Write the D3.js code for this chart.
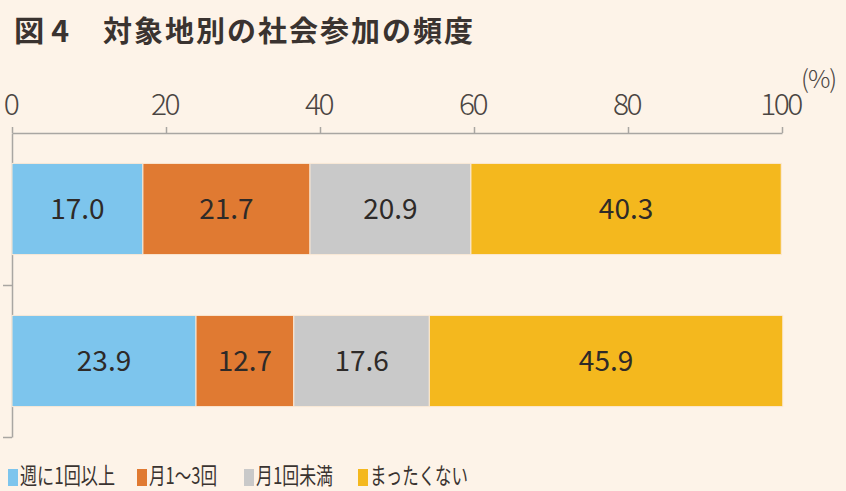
<!DOCTYPE html>
<html>
<head>
<meta charset="utf-8">
<script src="https://cdn.jsdelivr.net/npm/d3@7"></script>
<style>
  body { margin: 0; background: #fdf3e8; }
  svg { display: block; }
  text { font-family: "Noto Sans CJK JP", "Noto Sans", sans-serif; }
</style>
</head>
<body>
<div id="chart"></div>
<script>
'use strict';

// data
var groups = ["A", "B"];
var seriesNames = ["週に1回以上", "月1～3回", "月1回未満", "まったくない"];
var seriesColors = ["#7dc5ed", "#e07a32", "#c9c9c9", "#f4b81e"];
var weekly    = [17.0, 23.9];
var monthly   = [21.7, 12.7];
var lessThan  = [20.9, 17.6];
var never     = [40.3, 45.9];
var xTicks = [0, 20, 40, 60, 80, 100];

var W = 846, H = 491;

var svg = d3.select("#chart").append("svg")
    .attr("width", W)
    .attr("height", H);

svg.append("rect").attr("width", W).attr("height", H).attr("fill", "#fdf3e8");

// title (figure number + caption)
svg.append("text")
    .attr("x", 14).attr("y", 42)
    .attr("font-size", 29)
    .attr("font-weight", "bold")
    .attr("fill", "#3a3330")
    .attr("textLength", 55).attr("lengthAdjust", "spacingAndGlyphs")
    .text("図 4");
svg.append("text")
    .attr("x", 103).attr("y", 42)
    .attr("font-size", 29)
    .attr("font-weight", "bold")
    .attr("fill", "#3a3330")
    .attr("textLength", 370).attr("lengthAdjust", "spacing")
    .text("対象地別の社会参加の頻度");

var x = d3.scaleLinear().domain([0, 100]).range([12, 782]);
var y = d3.scaleBand().domain(groups).range([133, 437]).paddingInner(0.4).paddingOuter(0.2);

// build stacked rows
var rows = groups.map(function(g, i) {
    return { group: g, s0: weekly[i], s1: monthly[i], s2: lessThan[i], s3: never[i] };
});
var stack = d3.stack().keys(["s0", "s1", "s2", "s3"]);
var layers = stack(rows);

// top axis
var xAxis = d3.axisTop(x).tickValues(xTicks).tickSize(6).tickSizeOuter(0).tickPadding(12);
var gx = svg.append("g").attr("transform", "translate(0,133)").call(xAxis);
gx.select(".domain").attr("stroke", "#a9a6a2").attr("stroke-width", 1.5);
gx.selectAll(".tick line").attr("stroke", "#a9a6a2").attr("stroke-width", 1.5);
gx.selectAll(".tick text")
    .attr("font-size", 30)
    .attr("fill", "#4a4542")
    .attr("font-family", "Roboto, 'Noto Sans', sans-serif")
    .attr("font-weight", 300)
    .attr("letter-spacing", -2.5)
    .attr("dx", -2);

svg.append("text")
    .attr("x", 801).attr("y", 88)
    .attr("font-size", 25)
    .attr("fill", "#4a4542")
    .attr("font-family", "Roboto, 'Noto Sans', sans-serif")
    .attr("font-weight", 300)
    .attr("letter-spacing", -1)
    .text("(%)");

// left axis: band boundaries
var yAxis = d3.axisLeft(d3.scaleLinear().domain([0, 2]).range([133, 437]))
    .tickValues([1, 2]).tickSize(9).tickSizeOuter(0).tickFormat("");
var gy = svg.append("g").attr("transform", "translate(12,0)").call(yAxis);
gy.select(".domain").attr("stroke", "#a9a6a2").attr("stroke-width", 1.5);
gy.selectAll(".tick line").attr("stroke", "#a9a6a2").attr("stroke-width", 1.5);

// bars
var layerG = svg.selectAll("g.layer").data(layers).enter().append("g")
    .attr("class", "layer")
    .attr("fill", function(d, i) { return seriesColors[i]; });

layerG.selectAll("rect").data(function(d) { return d; }).enter().append("rect")
    .attr("x", function(d) { return x(d[0]); })
    .attr("width", function(d) { return x(d[1]) - x(d[0]); })
    .attr("y", function(d) { return y(d.data.group); })
    .attr("height", y.bandwidth())
    .attr("stroke", "#fbe9d6")
    .attr("stroke-width", 1);

layerG.selectAll("text").data(function(d) { return d; }).enter().append("text")
    .attr("x", function(d) { return (x(d[0]) + x(d[1])) / 2; })
    .attr("y", function(d) { return y(d.data.group) + y.bandwidth() / 2; })
    .attr("dy", "0.36em")
    .attr("text-anchor", "middle")
    .attr("font-size", 28)
    .attr("fill", "#2e2a28")
    .attr("font-family", "'Open Sans', 'Noto Sans', sans-serif")
    .text(function(d) { return (d[1] - d[0]).toFixed(1); });

// legend
var legendX = [8, 137, 244, 358];
var legendW = [95, 68, 77, 98];
var legend = svg.selectAll("g.legend").data(seriesNames).enter().append("g")
    .attr("class", "legend")
    .attr("transform", function(d, i) { return "translate(" + legendX[i] + ",0)"; });
legend.append("rect")
    .attr("y", 469).attr("width", 10).attr("height", 17)
    .attr("fill", function(d, i) { return seriesColors[i]; });
legend.append("text")
    .attr("x", 12).attr("y", 484)
    .attr("font-size", 23)
    .attr("fill", "#3a3330")
    .attr("textLength", function(d, i) { return legendW[i]; })
    .attr("lengthAdjust", "spacingAndGlyphs")
    .text(function(d) { return d; });
</script>
</body>
</html>
